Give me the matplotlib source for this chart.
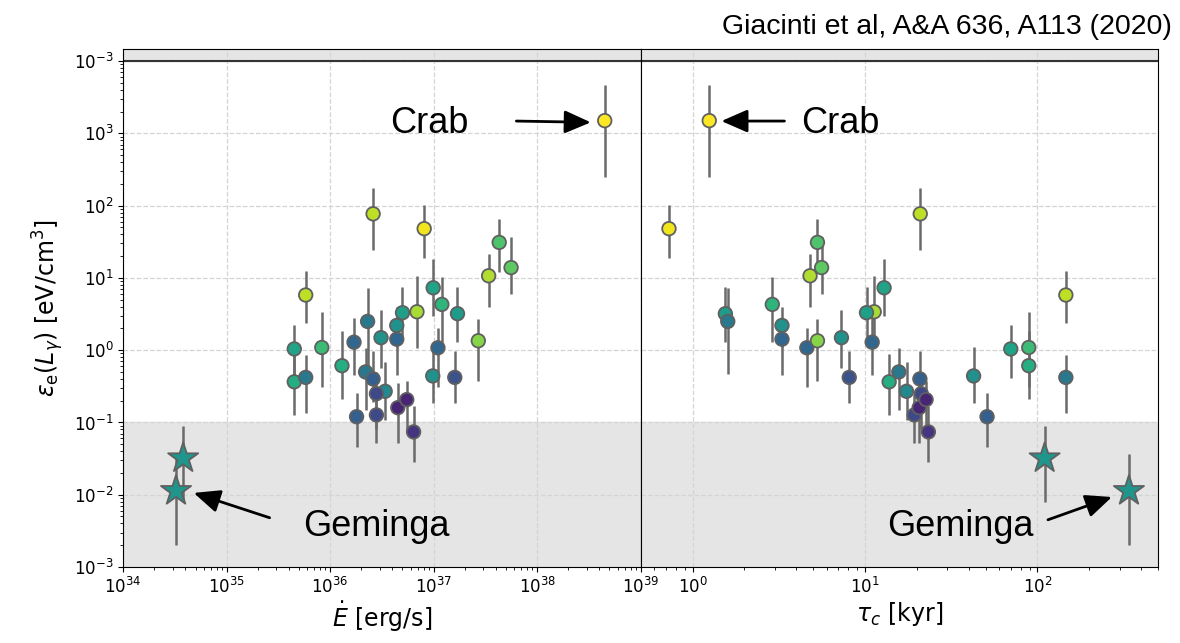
import numpy as np
import matplotlib.pyplot as plt
from matplotlib.ticker import FixedLocator, FixedFormatter, NullFormatter

# pulsar sample: spin-down power [erg/s], characteristic age [kyr],
# electron energy density [eV/cm^3] with lower/upper bounds, colour value
edot = [2.6e36, 8.1e36, 4.3e37, 5.6e37, 3.4e37, 5.8e35, 9.9e36, 1.2e37,
        1.7e37, 6.9e36, 5.0e36, 4.4e36, 4.4e36, 2.3e36, 1.7e36, 3.1e36,
        8.3e35, 4.5e35, 4.5e35, 5.8e35, 1.3e36, 2.2e36, 2.6e36, 3.4e36,
        2.8e36, 1.8e36, 2.8e36, 4.5e36, 5.5e36, 6.4e36, 9.8e36, 1.1e37,
        1.6e37, 2.7e37, 4.5e38]
tau_c = [20.9, 0.73, 5.3, 5.6, 4.8, 146, 12.9, 2.9,
         1.55, 11.3, 10.2, 3.3, 3.3, 1.6, 11.0, 7.3,
         89, 70, 13.8, 146, 89, 15.7, 20.8, 17.4,
         21.2, 51, 19.3, 20.6, 22.6, 23.3, 42.6, 4.6,
         8.1, 5.3, 1.25]
eps_e = [77, 48, 31, 13.9, 10.7, 5.8, 7.3, 4.3,
         3.2, 3.4, 3.3, 2.2, 1.42, 2.5, 1.29, 1.49,
         1.09, 1.04, 0.365, 0.42, 0.61, 0.5, 0.40, 0.27,
         0.25, 0.12, 0.127, 0.16, 0.207, 0.074, 0.44, 1.08,
         0.42, 1.35, 1500]
eps_lo = [24.4, 18.7, 12.2, 6.0, 3.9, 2.4, 3.0, 1.3,
          1.3, 1.08, 1.5, 1.1, 0.45, 0.47, 0.45, 0.56,
          0.31, 0.41, 0.127, 0.135, 0.21, 0.15, 0.19, 0.109,
          0.08, 0.046, 0.052, 0.052, 0.071, 0.028, 0.185, 0.31,
          0.185, 0.37, 252]
eps_hi = [176, 102, 65, 37, 21.5, 12.5, 18.3, 10.3,
          7.5, 10.7, 7.6, 3.9, 2.6, 7.2, 2.8, 3.6,
          3.4, 2.2, 0.88, 0.86, 1.85, 1.07, 0.96, 0.68,
          0.5, 0.254, 0.25, 0.35, 0.38, 0.17, 1.1, 2.0,
          0.96, 2.7, 4670]
cval = [0.90, 0.98, 0.72, 0.75, 0.88, 0.90, 0.58, 0.65,
        0.55, 0.87, 0.56, 0.50, 0.33, 0.40, 0.33, 0.50,
        0.68, 0.58, 0.62, 0.40, 0.62, 0.40, 0.30, 0.47,
        0.22, 0.30, 0.22, 0.10, 0.10, 0.15, 0.50, 0.33,
        0.25, 0.82, 1.00]

# Monogem and Geminga (stars)
star_edot = [3.8e34, 3.24e34]
star_tau = [110, 339]
star_eps = [0.032, 0.0113]
star_lo = [0.008, 0.002]
star_hi = [0.09, 0.037]
star_cval = [0.52, 0.52]

ytick_vals = [1e4, 1e3, 1e2, 1e1, 1e0, 1e-1, 1e-2, 1e-3]
ytick_labels = [r'$10^{-3}$', r'$10^{3}$', r'$10^{2}$', r'$10^{1}$',
                r'$10^{0}$', r'$10^{-1}$', r'$10^{-2}$', r'$10^{-3}$']

ann_font = 'Liberation Sans'
err_color = '#6a6a6a'
edge_color = '#606060'


def draw_panel(ax, x, xs):
    eps = np.array(eps_e)
    yerr = [eps - np.array(eps_lo), np.array(eps_hi) - eps]
    ax.errorbar(x, eps, yerr=yerr, fmt='none', ecolor=err_color,
                elinewidth=1.8, capsize=0, zorder=2)
    ax.scatter(x, eps, c=cval, cmap='viridis', vmin=0, vmax=1, s=95,
               edgecolors=edge_color, linewidths=1.3, zorder=3)

    seps = np.array(star_eps)
    serr = [seps - np.array(star_lo), np.array(star_hi) - seps]
    ax.errorbar(xs, seps, yerr=serr, fmt='none', ecolor=err_color,
                elinewidth=1.8, capsize=0, zorder=2)
    ax.scatter(xs, seps, c=star_cval, cmap='viridis', vmin=0, vmax=1,
               marker='*', s=520, edgecolors=edge_color, linewidths=1.3,
               zorder=3)

    ax.set_xscale('log')
    ax.set_yscale('log')
    ax.set_ylim(1e-3, 1.47e4)
    ax.axhspan(1e-3, 0.1, color='#e5e5e5', zorder=0)
    ax.axhspan(1e4, 1e5, color='#e5e5e5', zorder=0)
    ax.axhline(1e4, color='#333333', lw=1.5, zorder=1)
    ax.set_axisbelow(True)
    ax.grid(True, which='major', ls='--', color='#d4d4d4', lw=0.9)
    ax.tick_params(labelsize=12)
    ax.xaxis.set_minor_formatter(NullFormatter())


fig, (ax1, ax2) = plt.subplots(1, 2, figsize=(11.8, 6.43), dpi=100,
                               sharey=True)
fig.subplots_adjust(left=0.1044, right=0.9814, bottom=0.1182, top=0.9238,
                    wspace=0)

draw_panel(ax1, edot, star_edot)
draw_panel(ax2, tau_c, star_tau)

ax1.set_xlim(1e34, 1e39)
ax2.set_xlim(0.5, 500)

ax1.yaxis.set_major_locator(FixedLocator(ytick_vals))
ax1.yaxis.set_major_formatter(FixedFormatter(ytick_labels))
ax2.tick_params(axis='y', which='both', left=False, labelleft=False)

ax1.set_xlabel(r'$\dot{E}$ [erg/s]', fontsize=17, labelpad=2)
ax2.set_xlabel(r'$\tau_c$ [kyr]', fontsize=17, labelpad=2)
ax1.set_ylabel(r'$\varepsilon_{\rm e}(L_\gamma)$ [eV/cm$^3$]', fontsize=17,
               labelpad=6)

arrow = dict(arrowstyle='-|>,head_length=0.8,head_width=0.35',
             color='black', lw=2, mutation_scale=20,
             shrinkA=0, shrinkB=0)

# Crab labels
ax1.text(9.1e36, 1350, 'Crab', fontsize=26, family=ann_font,
         ha='center', va='center')
ax1.annotate('', xy=(3.3e38, 1420), xytext=(6.3e37, 1480),
             arrowprops=arrow)
ax2.text(7.2, 1350, 'Crab', fontsize=26, family=ann_font,
         ha='center', va='center')
ax2.annotate('', xy=(1.47, 1480), xytext=(3.41, 1480), arrowprops=arrow)

# Geminga labels
ax1.text(2.8e36, 0.0036, 'Geminga', fontsize=26, family=ann_font,
         ha='center', va='center')
ax1.annotate('', xy=(4.8e34, 0.0106), xytext=(2.6e35, 0.0048),
             arrowprops=arrow)
ax2.text(35.6, 0.0036, 'Geminga', fontsize=26, family=ann_font,
         ha='center', va='center')
ax2.annotate('', xy=(270, 0.0093), xytext=(115, 0.0045), arrowprops=arrow)

fig.text(1172 / 1180, 1 - 34 / 643, 'Giacinti et al, A&A 636, A113 (2020)',
         fontsize=20.5, family=ann_font, ha='right', va='baseline')

fig.savefig('out.png', dpi=100)
